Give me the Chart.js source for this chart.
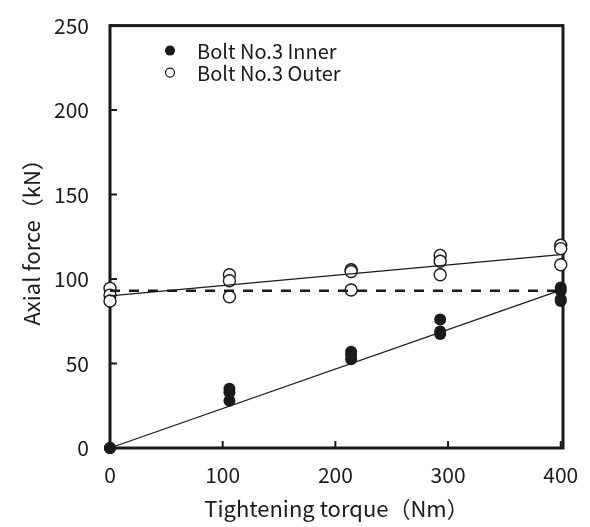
<!DOCTYPE html>
<html>
<head>
<meta charset="utf-8">
<script src="https://cdn.jsdelivr.net/npm/chart.js@4/dist/chart.umd.min.js"></script>
<style>
  html, body { margin: 0; padding: 0; background: #fff; }
  #wrap { width: 590px; height: 527px; }
</style>
</head>
<body>
<div id="wrap"><canvas id="forceChart" width="590" height="527"></canvas></div>
<script>
// tightening torque steps (Nm)
const torqueLevels = [0, 106, 214, 293, 400];

// measured axial force (kN) at each torque step
const innerForce = [[0, 0, 0], [35, 33, 28], [57, 55, 52.5], [76, 69, 67.5], [95, 93, 88, 87]];
const outerForce = [[94.5, 90.5, 87], [102.5, 99, 89.5], [105.5, 104.5, 93.5], [114, 110.5, 102.5], [120, 118, 108.5]];

// fitted lines, values at torque 0 and 400
const fitTorque = [0, 400];
const innerFit = [0, 93.5];
const outerFit = [90, 114.5];
const refForce = [93, 93];

const xTicks = [0, 100, 200, 300, 400];
const yTicks = [0, 50, 100, 150, 200, 250];

const legendNames = ["Bolt No.3 Inner", "Bolt No.3 Outer"];

const ink = "#1a1a1a";
const fontFamily = "'Noto Sans CJK JP', 'Noto Sans', sans-serif";

//flatten grouped measurements into scatter points
function toPoints(groups){
  const pts = [];
  groups.forEach((vals, i) => {
    vals.forEach(v => pts.push({ x: torqueLevels[i], y: v }));
  });
  return pts;
}

function toLine(ys){
  return fitTorque.map((x, i) => ({ x: x, y: ys[i] }));
}

//frame, inward ticks and legend inside the plot
const framePlugin = {
  id: "frame",
  beforeDatasetsDraw(chart){
    const { ctx, chartArea: a, scales } = chart;
    ctx.save();
    ctx.strokeStyle = ink;
    ctx.lineWidth = 3;
    ctx.strokeRect(a.left, a.top, a.right - a.left, a.bottom - a.top);
    ctx.lineWidth = 2;
    ctx.beginPath();
    yTicks.forEach(v => {
      const y = scales.y.getPixelForValue(v);
      ctx.moveTo(a.left, y);
      ctx.lineTo(a.left + 7, y);
    });
    xTicks.forEach(v => {
      const x = scales.x.getPixelForValue(v);
      ctx.moveTo(x, a.bottom);
      ctx.lineTo(x, a.bottom - 7);
    });
    ctx.stroke();
    ctx.restore();
  },
  afterDraw(chart){
    const { ctx, chartArea: a } = chart;
    ctx.save();
    ctx.font = "20px " + fontFamily;
    ctx.textBaseline = "middle";
    ctx.fillStyle = ink;
    legendNames.forEach((name, i) => {
      const cy = a.top + 25 + i * 22;
      const cx = a.left + 60;
      ctx.beginPath();
      ctx.arc(cx, cy, i === 0 ? 5 : 4.5, 0, Math.PI * 2);
      ctx.lineWidth = 1.2;
      ctx.strokeStyle = ink;
      if (i === 0) { ctx.fill(); } else { ctx.stroke(); }
      ctx.fillText(name, a.left + 87, cy + 1);
    });
    ctx.restore();
  }
};

const tickFont = { family: fontFamily, size: 21 };
const titleFont = { family: fontFamily, size: 22 };

new Chart(document.getElementById("forceChart"), {
  type: "scatter",
  data: {
    datasets: [
      {
        data: toLine(refForce),
        showLine: true,
        borderColor: ink,
        borderWidth: 2.5,
        borderDash: [10, 9],
        pointRadius: 0,
        clip: false
      },
      {
        data: toLine(innerFit),
        showLine: true,
        borderColor: ink,
        borderWidth: 1.3,
        pointRadius: 0,
        clip: false
      },
      {
        data: toLine(outerFit),
        showLine: true,
        borderColor: ink,
        borderWidth: 1.3,
        pointRadius: 0,
        clip: false
      },
      {
        label: legendNames[0],
        data: toPoints(innerForce),
        pointRadius: 6,
        pointBackgroundColor: ink,
        pointBorderColor: ink,
        pointBorderWidth: 0,
        clip: false
      },
      {
        label: legendNames[1],
        data: toPoints(outerForce),
        pointRadius: 6,
        pointBackgroundColor: "#fff",
        pointBorderColor: ink,
        pointBorderWidth: 1.4,
        clip: false
      }
    ]
  },
  options: {
    responsive: false,
    animation: false,
    layout: { padding: { left: 0, right: 27, top: 20, bottom: 0 } },
    plugins: {
      legend: { display: false },
      tooltip: { enabled: false }
    },
    scales: {
      x: {
        type: "linear",
        min: 0,
        max: 402,
        border: { display: false },
        grid: { display: false },
        afterBuildTicks(scale){ scale.ticks = xTicks.map(v => ({ value: v })); },
        ticks: {
          color: ink,
          font: tickFont,
          padding: 6,
          maxRotation: 0
        },
        title: {
          display: true,
          text: "Tightening torque（Nm）",
          color: ink,
          font: titleFont,
          padding: { top: 0, bottom: 5 }
        },
        afterFit(scale){ scale.height = 79; }
      },
      y: {
        min: 0,
        max: 250,
        border: { display: false },
        grid: { display: false },
        afterBuildTicks(scale){ scale.ticks = yTicks.map(v => ({ value: v })); },
        ticks: {
          color: ink,
          font: tickFont,
          padding: 13
        },
        title: {
          display: true,
          text: "Axial force（kN）",
          color: ink,
          font: titleFont,
          padding: { top: 18, bottom: 0 }
        },
        afterFit(scale){ scale.width = 110; }
      }
    }
  },
  plugins: [framePlugin]
});
</script>
</body>
</html>
